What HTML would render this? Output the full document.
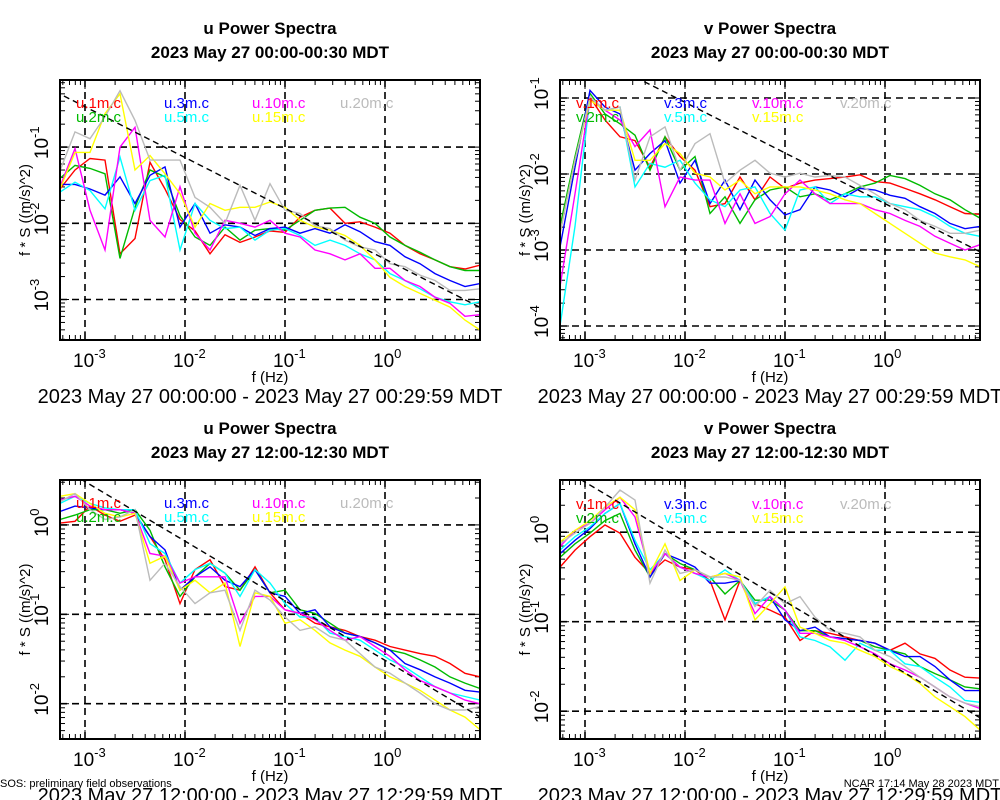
<!DOCTYPE html>
<html><head><meta charset="utf-8"><style>
body{margin:0;background:#fff}
svg{display:block;font-family:"Liberation Sans",sans-serif}
</style></head><body>
<svg id="c" width="1000" height="800" viewBox="0 0 1000 800"></svg>
<script>
// frequency grid (log10 Hz)
const logFreq = [-3.25,-3.10,-2.95,-2.80,-2.65,-2.50,-2.35,-2.20,-2.05,-1.90,-1.75,-1.60,-1.45,-1.30,-1.15,-1.00,-0.85,-0.70,-0.55,-0.40,-0.25,-0.10,0.05,0.20,0.35,0.50,0.65,0.80,0.95];
const seriesNames = ["1m","2m","3m","5m","10m","15m","20m"];
// log10 of f*S, panel u night
const uN_1m=[-1.55,-1.3,-1.15,-1.17,-2.4,-2.2,-1.2,-1.55,-1.95,-2.1,-2.4,-2.15,-2.25,-2.18,-2.1,-2.12,-1.92,-1.83,-1.8,-2.0,-1.98,-2.05,-2.13,-2.29,-2.4,-2.48,-2.57,-2.6,-2.55];
const uN_2m=[-1.41,-1.24,-1.28,-1.35,-2.46,-1.79,-1.3,-1.39,-1.9,-2.18,-2.29,-2.05,-2.22,-2.09,-2.07,-2.09,-1.96,-1.83,-1.8,-1.79,-1.92,-2.0,-2.18,-2.29,-2.38,-2.48,-2.57,-2.62,-2.62];
const uN_3m=[-1.49,-1.49,-1.55,-1.63,-1.39,-1.74,-1.37,-1.26,-2.05,-1.74,-2.13,-2.02,-2.05,-2.16,-2.07,-2.05,-2.13,-2.07,-2.13,-2.02,-2.11,-2.24,-2.29,-2.44,-2.53,-2.66,-2.75,-2.83,-2.79];
const uN_5m=[-1.59,-1.46,-1.57,-1.81,-1.13,-1.83,-1.44,-1.37,-2.35,-1.74,-1.96,-2.07,-2.05,-2.22,-2.09,-2.07,-2.16,-2.29,-2.22,-2.29,-2.4,-2.48,-2.66,-2.75,-2.86,-2.97,-3.03,-3.07,-3.03];
const uN_10m=[-1.52,-1.02,-1.83,-2.35,-1.0,-0.74,-1.96,-2.18,-1.52,-2.13,-2.35,-1.96,-2.0,-2.05,-1.96,-2.13,-2.18,-2.35,-2.4,-2.48,-2.4,-2.59,-2.59,-2.75,-2.83,-2.97,-3.05,-3.22,-3.2];
const uN_15m=[-1.55,-1.07,-1.07,-0.56,-0.3,-1.3,-1.11,-1.35,-1.61,-2.05,-1.74,-1.83,-1.79,-1.79,-1.72,-1.79,-1.96,-2.05,-2.09,-2.16,-2.29,-2.48,-2.71,-2.83,-2.92,-3.01,-3.1,-3.27,-3.4];
const uN_20m=[-1.31,-0.8,-0.89,-0.6,-0.26,-0.65,-1.17,-1.17,-1.17,-1.66,-1.79,-2.0,-1.5,-1.96,-1.48,-1.83,-1.87,-2.03,-2.07,-2.22,-2.31,-2.35,-2.53,-2.57,-2.68,-2.75,-2.88,-2.88,-2.86];
// panel v night
const vN_1m=[-2.74,-1.82,-0.99,-1.29,-1.51,-1.56,-1.91,-1.51,-1.77,-1.95,-2.43,-2.39,-2.04,-2.34,-2.04,-2.19,-2.12,-2.08,-2.06,-2.04,-2.01,-2.1,-2.12,-2.19,-2.26,-2.34,-2.43,-2.52,-2.53];
const vN_2m=[-2.69,-1.77,-0.94,-1.21,-1.34,-1.49,-1.95,-1.51,-1.95,-1.77,-2.52,-2.3,-2.65,-2.34,-2.21,-2.17,-2.3,-2.26,-2.34,-2.26,-2.17,-2.12,-2.02,-2.06,-2.15,-2.26,-2.34,-2.47,-2.58];
const vN_3m=[-2.96,-1.91,-0.9,-1.12,-1.21,-1.95,-1.73,-1.56,-2.12,-1.82,-2.39,-2.08,-2.47,-2.08,-2.34,-2.54,-2.47,-2.17,-2.21,-2.3,-2.19,-2.21,-2.28,-2.32,-2.43,-2.52,-2.65,-2.72,-2.69];
const vN_5m=[-4.0,-2.69,-0.99,-1.16,-1.12,-2.17,-1.86,-1.91,-1.82,-2.12,-2.34,-2.43,-2.21,-2.17,-2.52,-2.74,-2.21,-2.17,-2.39,-2.26,-2.3,-2.3,-2.39,-2.43,-2.47,-2.56,-2.69,-2.78,-2.82];
const vN_10m=[-3.48,-2.26,-0.99,-1.16,-1.29,-1.64,-1.42,-2.43,-2.04,-2.08,-2.08,-2.65,-2.26,-2.65,-2.56,-2.26,-2.08,-2.26,-2.39,-2.39,-2.39,-2.47,-2.52,-2.61,-2.69,-2.82,-2.91,-3.0,-2.93];
const vN_15m=[-2.78,-1.82,-1.03,-1.16,-1.16,-1.82,-1.82,-1.6,-1.73,-1.99,-2.04,-2.21,-2.08,-2.26,-2.17,-2.17,-2.17,-2.21,-2.26,-2.34,-2.39,-2.52,-2.65,-2.78,-2.91,-3.04,-3.09,-3.13,-3.22];
const vN_20m=[-2.78,-1.82,-0.99,-1.16,-1.12,-2.08,-1.51,-1.38,-1.95,-1.6,-1.47,-2.12,-1.95,-1.82,-1.99,-2.04,-1.99,-2.04,-2.02,-2.04,-2.15,-2.26,-2.39,-2.47,-2.61,-2.69,-2.78,-2.78,-2.74];
// panel u day
const uD_1m=[0.02,0.04,0.21,0.11,0.04,0.11,-0.13,-0.39,-0.88,-0.5,-0.39,-0.69,-0.73,-0.47,-0.76,-0.95,-0.99,-1.1,-1.14,-1.18,-1.25,-1.29,-1.36,-1.4,-1.44,-1.47,-1.55,-1.66,-1.7];
const uD_2m=[0.06,0.11,0.17,0.17,0.13,0.17,-0.06,-0.47,-0.8,-0.58,-0.43,-0.54,-0.73,-0.5,-0.76,-0.73,-0.95,-0.99,-1.1,-1.21,-1.25,-1.32,-1.4,-1.44,-1.51,-1.59,-1.7,-1.77,-1.83];
const uD_3m=[0.15,0.21,0.19,0.17,0.17,0.13,-0.13,-0.28,-0.73,-0.58,-0.47,-0.62,-0.69,-0.5,-0.76,-0.8,-0.99,-0.95,-1.14,-1.21,-1.25,-1.32,-1.4,-1.55,-1.62,-1.7,-1.77,-1.85,-1.87];
const uD_5m=[0.24,0.32,0.24,0.19,0.17,0.17,-0.21,-0.32,-0.65,-0.5,-0.43,-0.54,-0.8,-0.5,-0.65,-0.88,-1.03,-1.03,-1.21,-1.25,-1.29,-1.4,-1.51,-1.59,-1.7,-1.81,-1.88,-1.92,-1.96];
const uD_10m=[0.28,0.32,0.21,0.17,0.17,0.13,-0.32,-0.35,-0.65,-0.58,-0.58,-0.58,-1.1,-0.8,-0.8,-0.95,-0.99,-1.06,-1.18,-1.29,-1.25,-1.36,-1.47,-1.62,-1.74,-1.81,-1.88,-1.96,-2.0];
const uD_15m=[0.32,0.35,0.24,0.13,0.09,0.13,-0.43,-0.35,-0.73,-0.62,-0.76,-0.65,-1.36,-0.76,-0.8,-1.1,-1.06,-1.18,-1.32,-1.4,-1.47,-1.59,-1.7,-1.77,-1.85,-1.96,-2.07,-2.15,-2.29];
const uD_20m=[0.26,0.35,0.17,0.06,0.09,0.17,-0.62,-0.43,-0.69,-0.88,-0.76,-0.73,-1.18,-0.73,-0.84,-1.03,-1.18,-1.14,-1.25,-1.29,-1.44,-1.59,-1.66,-1.77,-1.88,-2.0,-2.07,-2.07,-2.03];
// panel v day
const vD_1m=[-0.39,-0.2,-0.05,0.08,-0.01,-0.28,-0.46,-0.31,-0.39,-0.42,-0.54,-0.98,-0.54,-0.8,-0.87,-0.95,-1.21,-1.1,-1.13,-1.17,-1.21,-1.24,-1.32,-1.24,-1.36,-1.41,-1.54,-1.62,-1.63];
const vD_2m=[-0.28,-0.13,-0.01,0.13,0.21,-0.2,-0.5,-0.24,-0.35,-0.42,-0.5,-0.69,-0.54,-0.76,-0.76,-0.87,-1.1,-1.1,-1.17,-1.19,-1.21,-1.28,-1.32,-1.36,-1.5,-1.58,-1.65,-1.73,-1.75];
const vD_3m=[-0.24,-0.09,0.04,0.21,0.32,-0.13,-0.5,-0.24,-0.31,-0.39,-0.57,-0.57,-0.54,-0.8,-0.72,-0.98,-1.1,-1.06,-1.17,-1.19,-1.21,-1.24,-1.32,-1.39,-1.39,-1.5,-1.65,-1.77,-1.77];
const vD_5m=[-0.2,-0.05,0.06,0.21,0.32,-0.09,-0.42,-0.24,-0.39,-0.46,-0.54,-0.42,-0.54,-0.8,-0.72,-0.87,-1.17,-1.21,-1.28,-1.43,-1.24,-1.32,-1.32,-1.47,-1.5,-1.62,-1.73,-1.88,-1.9];
const vD_10m=[-0.16,0.02,0.1,0.25,0.39,0.17,-0.46,-0.24,-0.39,-0.46,-0.5,-0.46,-0.54,-0.91,-0.72,-0.87,-1.13,-1.13,-1.17,-1.21,-1.28,-1.36,-1.47,-1.54,-1.62,-1.73,-1.84,-1.91,-1.97];
const vD_15m=[-0.11,0.02,0.13,0.28,0.39,0.25,-0.46,-0.13,-0.54,-0.42,-0.5,-0.46,-0.5,-0.98,-0.8,-0.61,-1.06,-1.13,-1.21,-1.24,-1.32,-1.39,-1.5,-1.58,-1.69,-1.84,-1.95,-2.06,-2.21];
const vD_20m=[-0.13,-0.01,0.1,0.28,0.47,0.36,-0.57,-0.2,-0.46,-0.42,-0.5,-0.5,-0.54,-0.83,-0.65,-0.8,-0.72,-0.95,-1.1,-1.13,-1.17,-1.32,-1.39,-1.5,-1.62,-1.73,-1.84,-1.91,-1.95];
// reference -2/3 slope line intercepts (log10)
const refIntercepts = [-2.47,-2.39,-1.515,-1.44];
const yTickExps = [[-1,-2,-3],[-1,-2,-3,-4],[0,-1,-2],[0,-1,-2]];
const xTickExps = [-3,-2,-1,0];

const colors=["#ff0000","#00bb00","#0000ff","#00ffff","#ff00ff","#ffff00","#bbbbbb"];
const NS="http://www.w3.org/2000/svg";
const svg=document.getElementById("c");
function mk(tag,attrs,parent){const e=document.createElementNS(NS,tag);for(const k in attrs)e.setAttribute(k,attrs[k]);(parent||svg).appendChild(e);return e;}

const panels=[
 {comp:"u",data:[uN_1m,uN_2m,uN_3m,uN_5m,uN_10m,uN_15m,uN_20m],x0:60,top:80,bot:340,yRef:-2,yRefPx:223.3,dec:76.2,t2:"2023 May 27 00:00-00:30 MDT",range:"2023 May 27 00:00:00 - 2023 May 27 00:29:59 MDT",tY:0,legY:103},
 {comp:"v",data:[vN_1m,vN_2m,vN_3m,vN_5m,vN_10m,vN_15m,vN_20m],x0:560,top:80,bot:340,yRef:-2,yRefPx:174,dec:76,t2:"2023 May 27 00:00-00:30 MDT",range:"2023 May 27 00:00:00 - 2023 May 27 00:29:59 MDT",tY:0,legY:103},
 {comp:"u",data:[uD_1m,uD_2m,uD_3m,uD_5m,uD_10m,uD_15m,uD_20m],x0:60,top:480,bot:739,yRef:-1,yRefPx:614.3,dec:89.4,t2:"2023 May 27 12:00-12:30 MDT",range:"2023 May 27 12:00:00 - 2023 May 27 12:29:59 MDT",tY:400,legY:503},
 {comp:"v",data:[vD_1m,vD_2m,vD_3m,vD_5m,vD_10m,vD_15m,vD_20m],x0:560,top:480,bot:739,yRef:-1,yRefPx:621.7,dec:89.5,t2:"2023 May 27 12:00-12:30 MDT",range:"2023 May 27 12:00:00 - 2023 May 27 12:29:59 MDT",tY:400,legY:504}
];

panels.forEach((p,pi)=>{
 const g=mk("g",{});
 
 
 const L=p.x0,R=p.x0+420,T=p.top,B=p.bot,cx=(L+R)/2;
 const X=lf=>L+(lf+3.25)*100;
 const Y=lv=>p.yRefPx-(lv-p.yRef)*p.dec;
 const clipId="clip"+pi;
 const cp=mk("clipPath",{id:clipId},g);mk("rect",{x:L,y:T,width:420,height:B-T},cp);
 // titles
 const t1=mk("text",{x:cx,y:p.tY+34,"text-anchor":"middle","font-size":"17","font-weight":"bold"},g);
 t1.textContent=p.comp+" Power Spectra";
 
 
 const t2=mk("text",{x:cx,y:p.tY+58,"text-anchor":"middle","font-size":"17","font-weight":"bold"},g);
 t2.textContent=p.t2;
 
 
 // grid
 xTickExps.forEach(e=>{const l=mk("line",{x1:X(e),x2:X(e),y1:T,y2:B,stroke:"#000","stroke-width":1.6,"stroke-dasharray":"7,5"},g);
  
  });
 yTickExps[pi].forEach(e=>{const l=mk("line",{x1:L,x2:R,y1:Y(e),y2:Y(e),stroke:"#000","stroke-width":1.6,"stroke-dasharray":"7,5"},g);
  
  });
 // minor ticks
 for(let d=-4;d<=1;d++)for(let m=1;m<=9;m++){const lf=d+Math.log10(m);const x=X(lf);if(x<L||x>R)continue;const len=m==1?9:5;
  mk("line",{x1:x,x2:x,y1:B,y2:B-len,stroke:"#000"},g);mk("line",{x1:x,x2:x,y1:T,y2:T+len,stroke:"#000"},g);}
 for(let d=-5;d<=1;d++)for(let m=1;m<=9;m++){const lv=d+Math.log10(m);const y=Y(lv);if(y<T||y>B)continue;const len=m==1?9:5;
  mk("line",{x1:L,x2:L+len,y1:y,y2:y,stroke:"#000"},g);mk("line",{x1:R,x2:R-len,y1:y,y2:y,stroke:"#000"},g);}
 // series
 const sg=mk("g",{"clip-path":"url(#"+clipId+")"},g);
 p.data.forEach((arr,si)=>{
  const pts=arr.map((v,i)=>X(logFreq[i]).toFixed(1)+","+Y(v).toFixed(1)).join(" ");
  const pl=mk("polyline",{points:pts,fill:"none",stroke:colors[si],"stroke-width":1.4},sg);
  
  
 });
 // reference line
 const a=refIntercepts[pi];
 const rl=mk("line",{x1:X(-3.3),y1:Y(a+2.2),x2:X(0.95),y2:Y(a-0.95*2/3),stroke:"#000","stroke-width":1.4,"stroke-dasharray":"6,4"},sg);
 
 
 // frame
 const fr=mk("rect",{x:L,y:T,width:420,height:B-T,fill:"none",stroke:"#000","stroke-width":2},g);
 
 
 // x tick labels
 xTickExps.forEach(e=>{const t=mk("text",{x:X(e)-12,y:B+27,"font-size":"19"},g);t.textContent="10";
  const s=mk("tspan",{dy:"-9","font-size":"13"},t);s.textContent=String(e).replace("-","-");
  
  });
 // y tick labels
 yTickExps[pi].forEach(e=>{const y=Y(e);const t=mk("text",{transform:"translate("+(L-12)+","+(y+12)+") rotate(-90)","font-size":"19"},g);t.textContent="10";
  const s=mk("tspan",{dy:"-9","font-size":"13"},t);s.textContent=String(e);
  
  });
 // axis titles
 const xt=mk("text",{x:cx,y:B+42,"text-anchor":"middle","font-size":"15"},g);xt.textContent="f (Hz)";
 
 
 const yt=mk("text",{transform:"translate("+(L-30)+","+((T+B)/2)+") rotate(-90)","text-anchor":"middle","font-size":"15"},g);yt.textContent="f * S ((m/s)^2)";
 
 
 const rt=mk("text",{x:cx,y:B+63,"text-anchor":"middle","font-size":"20"},g);rt.textContent=p.range;
 
 
 // legend
 const order=[0,2,4,6,1,3,5];
 seriesNames.forEach((n,si)=>{const col=si%2==0?si/2:(si-1)/2;const row=si%2;
  const t=mk("text",{x:L+16+88*col,y:p.legY+row*14+5,"font-size":"15",fill:colors[si]},g);
  t.textContent=p.comp+"."+n+".c";
  
  });
});
const f1=mk("text",{x:0,y:787,"font-size":"11"});f1.textContent="SOS: preliminary field observations";


const f2=mk("text",{x:999,y:787,"font-size":"11","text-anchor":"end"});f2.textContent="NCAR 17:14 May 28 2023 MDT";


</script>
</body></html>
